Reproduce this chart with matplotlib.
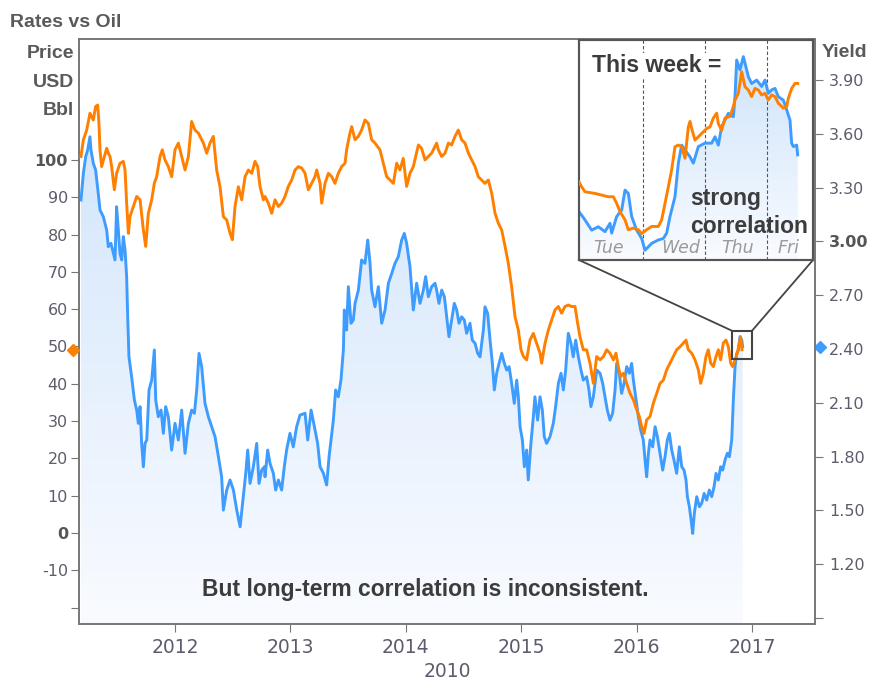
import numpy as np
import matplotlib
matplotlib.use("Agg")
import matplotlib.pyplot as plt
from matplotlib.colors import LinearSegmentedColormap
from matplotlib.patches import Rectangle, ConnectionPatch

plt.rcParams['font.family'] = ['Liberation Sans', 'DejaVu Sans']

# ---- main chart data (decimal year) ----
# oil price, USD/bbl (left axis)
oil_t = [2011.185, 2011.206, 2011.235, 2011.263, 2011.292, 2011.312, 2011.330, 2011.341, 2011.350, 2011.364,
         2011.388, 2011.408, 2011.422, 2011.437, 2011.451, 2011.474, 2011.494, 2011.523, 2011.552, 2011.567,
         2011.581, 2011.596, 2011.610, 2011.639, 2011.668, 2011.697, 2011.726, 2011.746, 2011.769, 2011.798,
         2011.821, 2011.841, 2011.870, 2011.890, 2011.913, 2011.942, 2011.971, 2012.000, 2012.029, 2012.058,
         2012.087, 2012.116, 2012.144, 2012.173, 2012.202, 2012.246, 2012.275, 2012.303, 2012.332, 2012.361,
         2012.390, 2012.419, 2012.448, 2012.477, 2012.497, 2012.520, 2012.549, 2012.578, 2012.607, 2012.636,
         2012.665, 2012.693, 2012.716, 2012.737, 2012.766, 2012.780, 2012.809, 2012.838, 2012.867, 2012.896,
         2012.924, 2012.953, 2012.982, 2013.011, 2013.040, 2013.069, 2013.098, 2013.127, 2013.155, 2013.184,
         2013.213, 2013.228, 2013.257, 2013.271, 2013.300, 2013.329, 2013.358, 2013.386, 2013.415, 2013.444,
         2013.473, 2013.487, 2013.516, 2013.531, 2013.560, 2013.589, 2013.617, 2013.646, 2013.675, 2013.704,
         2013.733, 2013.776, 2013.805, 2013.834, 2013.863, 2013.892, 2013.921, 2013.949, 2013.978, 2014.007,
         2014.036, 2014.065, 2014.109, 2014.137, 2014.166, 2014.195, 2014.224, 2014.267, 2014.282, 2014.311,
         2014.340, 2014.369, 2014.397, 2014.426, 2014.455, 2014.484, 2014.513, 2014.542, 2014.571, 2014.600,
         2014.628, 2014.657, 2014.686, 2014.715, 2014.744, 2014.773, 2014.802, 2014.831, 2014.860, 2014.888,
         2014.917, 2014.946, 2014.975, 2014.998, 2015.019, 2015.047, 2015.076, 2015.105, 2015.134, 2015.163,
         2015.177, 2015.206, 2015.235, 2015.264, 2015.293, 2015.322, 2015.350, 2015.379, 2015.408, 2015.437,
         2015.466, 2015.489, 2015.509, 2015.538, 2015.567, 2015.596, 2015.625, 2015.654, 2015.683, 2015.712,
         2015.741, 2015.769, 2015.798, 2015.821, 2015.841, 2015.862, 2015.885, 2015.914, 2015.943, 2015.972,
         2016.001, 2016.024, 2016.044, 2016.064, 2016.087, 2016.116, 2016.145, 2016.174, 2016.203, 2016.232,
         2016.260, 2016.289, 2016.318, 2016.347, 2016.376, 2016.405, 2016.428, 2016.448, 2016.477, 2016.506,
         2016.535, 2016.555, 2016.578, 2016.601, 2016.621, 2016.642, 2016.665, 2016.688, 2016.708, 2016.728,
         2016.751, 2016.774, 2016.795, 2016.815, 2016.832, 2016.852, 2016.873, 2016.890, 2016.901, 2016.913]
oil_v = [100.9, 105.4, 108.0, 112.5, 110.7, 114.3, 114.7, 109.8, 102.7, 98.2,
         100.9, 103.1, 101.8, 100.9, 98.2, 92.0, 96.4, 99.1, 99.6, 97.3,
         88.4, 80.3, 84.8, 87.5, 90.2, 89.3, 81.2, 76.8, 85.7, 89.3,
         93.8, 95.5, 100.9, 102.7, 100.0, 98.2, 95.5, 102.7, 104.5, 100.9,
         97.3, 100.9, 110.3, 108.0, 107.2, 104.5, 101.8, 104.5, 106.3, 97.3,
         92.8, 84.8, 83.9, 80.3, 78.6, 87.5, 92.8, 89.3, 95.5, 97.3,
         96.4, 99.6, 98.2, 92.8, 89.3, 90.2, 88.4, 85.7, 89.3, 87.5,
         88.4, 90.2, 92.9, 94.6, 97.3, 98.2, 97.8, 96.4, 92.0, 93.7,
         95.5, 97.3, 93.7, 88.4, 93.7, 96.4, 95.5, 93.7, 96.4, 98.2,
         99.1, 102.7, 107.2, 108.9, 105.4, 106.3, 108.0, 110.7, 109.8, 105.4,
         104.5, 102.7, 99.1, 95.5, 94.6, 93.7, 99.1, 97.3, 100.4, 92.9,
         96.4, 98.2, 104.0, 103.1, 100.0, 100.9, 101.8, 104.5, 102.7, 100.9,
         101.8, 104.5, 104.0, 106.3, 108.0, 105.4, 104.5, 101.8, 100.0, 98.2,
         95.5, 94.6, 93.7, 94.6, 91.1, 85.7, 83.0, 81.2, 76.8, 72.3,
         66.0, 58.0, 54.4, 49.1, 47.3, 46.4, 51.7, 53.5, 50.8, 48.2,
         45.5, 50.8, 54.4, 57.1, 59.8, 60.7, 58.9, 60.7, 61.1, 60.7,
         60.7, 56.2, 52.6, 49.1, 49.1, 45.5, 40.1, 47.3, 46.4, 47.3,
         49.1, 48.2, 46.4, 48.2, 44.6, 41.9, 42.8, 40.1, 37.4, 35.7,
         33.0, 31.2, 28.5, 26.7, 30.3, 31.2, 34.8, 37.4, 40.1, 41.0,
         43.7, 45.5, 47.3, 49.1, 49.9, 50.9, 51.7, 49.1, 48.2, 46.4,
         43.7, 40.1, 42.8, 47.3, 49.1, 45.5, 44.6, 47.3, 49.1, 46.4,
         50.9, 51.7, 49.9, 45.5, 44.6, 46.4, 48.2, 50.9, 52.6, 49.1]

# 10y yield, % (right axis)
yld_t = [2011.185, 2011.206, 2011.226, 2011.243, 2011.263, 2011.272, 2011.292, 2011.312, 2011.335, 2011.350,
         2011.379, 2011.408, 2011.422, 2011.445, 2011.466, 2011.480, 2011.494, 2011.509, 2011.523, 2011.538,
         2011.552, 2011.567, 2011.581, 2011.590, 2011.601, 2011.624, 2011.648, 2011.668, 2011.682, 2011.697,
         2011.711, 2011.726, 2011.740, 2011.755, 2011.775, 2011.798, 2011.821, 2011.833, 2011.855, 2011.879,
         2011.899, 2011.919, 2011.942, 2011.971, 2012.000, 2012.029, 2012.058, 2012.087, 2012.116, 2012.144,
         2012.168, 2012.188, 2012.208, 2012.231, 2012.260, 2012.289, 2012.318, 2012.347, 2012.376, 2012.404,
         2012.419, 2012.448, 2012.477, 2012.506, 2012.535, 2012.564, 2012.592, 2012.613, 2012.630, 2012.650,
         2012.679, 2012.708, 2012.728, 2012.751, 2012.775, 2012.780, 2012.803, 2012.823, 2012.852, 2012.872,
         2012.896, 2012.924, 2012.947, 2012.967, 2012.996, 2013.025, 2013.054, 2013.083, 2013.127, 2013.150,
         2013.179, 2013.208, 2013.236, 2013.257, 2013.286, 2013.314, 2013.335, 2013.352, 2013.372, 2013.392,
         2013.415, 2013.438, 2013.459, 2013.467, 2013.487, 2013.502, 2013.525, 2013.545, 2013.560, 2013.589,
         2013.617, 2013.646, 2013.670, 2013.690, 2013.704, 2013.733, 2013.762, 2013.791, 2013.820, 2013.849,
         2013.878, 2013.906, 2013.935, 2013.964, 2013.987, 2014.007, 2014.036, 2014.065, 2014.094, 2014.123,
         2014.152, 2014.172, 2014.195, 2014.224, 2014.253, 2014.267, 2014.287, 2014.311, 2014.334, 2014.354,
         2014.374, 2014.397, 2014.420, 2014.441, 2014.461, 2014.484, 2014.507, 2014.527, 2014.556, 2014.576,
         2014.600, 2014.623, 2014.643, 2014.672, 2014.686, 2014.709, 2014.730, 2014.750, 2014.767, 2014.787,
         2014.808, 2014.831, 2014.854, 2014.874, 2014.895, 2014.917, 2014.940, 2014.961, 2014.975, 2014.990,
         2015.010, 2015.027, 2015.047, 2015.061, 2015.084, 2015.105, 2015.119, 2015.142, 2015.163, 2015.183,
         2015.200, 2015.220, 2015.249, 2015.278, 2015.298, 2015.322, 2015.345, 2015.365, 2015.385, 2015.408,
         2015.431, 2015.451, 2015.472, 2015.495, 2015.518, 2015.538, 2015.567, 2015.587, 2015.604, 2015.625,
         2015.654, 2015.683, 2015.706, 2015.726, 2015.746, 2015.769, 2015.792, 2015.813, 2015.827, 2015.850,
         2015.870, 2015.891, 2015.914, 2015.937, 2015.957, 2015.972, 2015.995, 2016.015, 2016.035, 2016.058,
         2016.073, 2016.087, 2016.102, 2016.116, 2016.139, 2016.160, 2016.180, 2016.203, 2016.226, 2016.246,
         2016.266, 2016.284, 2016.304, 2016.324, 2016.347, 2016.370, 2016.391, 2016.411, 2016.428, 2016.440,
         2016.457, 2016.472, 2016.486, 2016.500, 2016.521, 2016.544, 2016.564, 2016.585, 2016.607, 2016.630,
         2016.651, 2016.671, 2016.688, 2016.708, 2016.728, 2016.746, 2016.766, 2016.786, 2016.804, 2016.824,
         2016.838, 2016.853, 2016.867, 2016.882, 2016.896, 2016.911, 2016.919]
yld_v = [3.231, 3.380, 3.473, 3.510, 3.584, 3.510, 3.436, 3.399, 3.268, 3.176,
         3.138, 3.064, 2.971, 2.990, 2.934, 2.897, 3.194, 3.064, 2.934, 2.897,
         3.027, 2.952, 2.804, 2.580, 2.357, 2.246, 2.116, 2.060, 1.986, 2.079,
         1.874, 1.744, 1.874, 1.893, 2.172, 2.227, 2.395, 2.116, 2.023, 2.060,
         1.930, 2.079, 2.023, 1.837, 1.986, 1.893, 2.060, 1.819, 1.986, 2.060,
         2.042, 2.172, 2.376, 2.302, 2.097, 2.023, 1.967, 1.911, 1.800, 1.688,
         1.502, 1.614, 1.670, 1.614, 1.502, 1.409, 1.577, 1.707, 1.837, 1.651,
         1.744, 1.874, 1.651, 1.725, 1.744, 1.688, 1.837, 1.763, 1.707, 1.614,
         1.670, 1.614, 1.744, 1.837, 1.930, 1.855, 1.967, 2.032, 2.042, 1.893,
         2.060, 1.967, 1.874, 1.744, 1.707, 1.642, 1.800, 1.893, 2.004, 2.172,
         2.134, 2.227, 2.395, 2.618, 2.506, 2.748, 2.544, 2.562, 2.655, 2.729,
         2.897, 2.878, 3.008, 2.878, 2.729, 2.636, 2.748, 2.544, 2.618, 2.767,
         2.822, 2.878, 2.915, 3.008, 3.045, 2.990, 2.859, 2.618, 2.767, 2.655,
         2.729, 2.804, 2.692, 2.748, 2.767, 2.729, 2.655, 2.729, 2.692, 2.580,
         2.469, 2.562, 2.655, 2.618, 2.544, 2.580, 2.562, 2.488, 2.544, 2.450,
         2.432, 2.376, 2.357, 2.506, 2.636, 2.599, 2.450, 2.320, 2.172, 2.265,
         2.320, 2.376, 2.320, 2.283, 2.302, 2.209, 2.097, 2.227, 2.134, 1.967,
         1.893, 1.744, 1.837, 1.670, 1.874, 2.023, 2.134, 2.004, 2.134, 2.060,
         1.911, 1.874, 1.911, 1.986, 2.079, 2.209, 2.265, 2.172, 2.283, 2.488,
         2.432, 2.357, 2.450, 2.357, 2.283, 2.227, 2.246, 2.172, 2.079, 2.134,
         2.283, 2.265, 2.209, 2.134, 2.060, 2.004, 2.042, 2.172, 2.320, 2.265,
         2.153, 2.209, 2.302, 2.265, 2.320, 2.227, 2.116, 2.023, 1.949, 1.893,
         1.781, 1.688, 1.819, 1.893, 1.855, 1.967, 1.911, 1.819, 1.725, 1.800,
         1.893, 1.930, 1.837, 1.781, 1.707, 1.855, 1.744, 1.725, 1.670, 1.577,
         1.521, 1.447, 1.372, 1.484, 1.577, 1.521, 1.540, 1.595, 1.558, 1.614,
         1.577, 1.632, 1.707, 1.670, 1.744, 1.725, 1.781, 1.819, 1.800, 1.893,
         2.116, 2.302, 2.376, 2.395, 2.469, 2.450, 2.413]

years = [2012, 2013, 2014, 2015, 2016, 2017]
oil_ticks = [-20, -10, 0, 10, 20, 30, 40, 50, 60, 70, 80, 90, 100]
yld_ticks = [0.90, 1.20, 1.50, 1.80, 2.10, 2.40, 2.70, 3.00, 3.30, 3.60, 3.90]

# ---- inset: this week (x = % of the week) ----
wk_yld_t = [0.0, 2.56, 5.41, 8.26, 11.11, 13.25, 13.96, 16.10, 18.23, 19.66, 21.08, 22.51, 24.64, 26.78,
            28.21, 31.05, 33.90, 36.04, 37.46, 38.89, 41.03, 42.45, 43.87, 45.30, 47.44, 48.86, 51.00,
            53.85, 56.70, 58.12, 59.54, 60.97, 63.82, 65.95, 66.67, 67.38, 68.80, 70.23, 71.65, 72.36,
            73.79, 75.93, 78.06, 79.49, 80.91, 82.34, 83.76, 85.19, 87.32, 88.75, 90.17, 90.88, 91.60,
            93.02, 93.45]
wk_yld_v = [1.899, 1.882, 1.861, 1.868, 1.858, 1.875, 1.855, 1.889, 1.902, 1.943, 1.936, 1.889, 1.861, 1.844,
            1.820, 1.834, 1.841, 1.844, 1.855, 1.889, 1.930, 1.998, 2.035, 2.025, 2.011, 1.998, 2.032,
            2.039, 2.039, 2.052, 2.035, 2.073, 2.100, 2.093, 2.134, 2.209, 2.189, 2.216, 2.189, 2.175,
            2.161, 2.168, 2.155, 2.168, 2.141, 2.148, 2.151, 2.134, 2.127, 2.107, 2.086, 2.039, 2.032,
            2.035, 2.015]
wk_oil_t = [0.0, 1.14, 2.56, 6.84, 9.69, 12.54, 14.67, 16.10, 17.52, 19.66, 21.08, 23.22, 25.36, 26.78,
            28.92, 31.05, 33.90, 35.33, 36.75, 38.18, 39.60, 41.03, 42.45, 43.87, 45.30, 46.72, 47.44,
            48.15, 49.57, 51.00, 52.42, 54.56, 55.98, 57.41, 58.83, 59.54, 60.97, 62.39, 64.53, 65.95,
            66.67, 68.09, 69.52, 70.94, 72.36, 73.79, 75.21, 76.64, 78.06, 79.49, 80.91, 82.34, 83.76,
            85.19, 87.32, 88.75, 89.46, 90.88, 92.31, 93.45]
wk_oil_v = [43.92, 43.83, 43.74, 43.71, 43.68, 43.65, 43.65, 43.53, 43.38, 43.23, 43.05, 43.08, 43.05, 42.98,
            43.05, 43.11, 43.11, 43.23, 43.53, 43.83, 44.14, 44.56, 44.59, 44.56, 44.35, 44.92, 45.02,
            44.89, 44.68, 44.74, 44.80, 44.89, 44.92, 45.08, 45.17, 44.98, 44.86, 45.08, 45.11, 45.29,
            45.41, 45.53, 45.92, 45.65, 45.59, 45.47, 45.62, 45.59, 45.50, 45.53, 45.41, 45.50, 45.47,
            45.35, 45.26, 45.29, 45.44, 45.62, 45.71, 45.71]
days = ["Tue", "Wed", "Thu", "Fri"]
day_mid = [12.8, 43.6, 67.8, 89.5]
day_bounds = [27.2, 54.0, 80.2]

ORANGE = "#ff8000"
BLUE = "#3f9cff"
GREY = "#777777"
TXT = "#5c5c6c"
DARK = "#3c3c3c"
fill_cmap = LinearSegmentedColormap.from_list("fill", ["#f9fbff", "#cce2fb"])


def gradient_fill(axis, x, y, ybottom, xlim, ylim):
	poly = axis.fill_between(x, y, ybottom, facecolor="none", edgecolor="none")
	grad = np.linspace(0, 1, 256).reshape(-1, 1)
	im = axis.imshow(grad, cmap=fill_cmap, origin="lower", aspect="auto",
					 extent=[xlim[0], xlim[1], ylim[0], ylim[1]], zorder=1)
	im.set_clip_path(poly.get_paths()[0], transform=axis.transData)
	axis.set_xlim(*xlim)
	axis.set_ylim(*ylim)


fig = plt.figure(figsize=(8.69, 6.81), dpi=100)
ax = fig.add_axes([0.0909, 0.0837, 0.8470, 0.8590])
ax2 = ax.twinx()
ax.set_zorder(ax2.get_zorder() + 1)
ax.patch.set_visible(False)

xlim = (2011.168, 2017.546)
oil_lim = (-24.4, 132.4)
yld_lim = (0.867, 4.129)

# yield: blue line with gradient fill (right axis)
gradient_fill(ax2, yld_t, yld_v, yld_lim[0], xlim, yld_lim)
ax2.plot(yld_t, yld_v, color=BLUE, lw=2.1, zorder=3)
# oil: orange line (left axis)
ax.plot(oil_t, oil_v, color=ORANGE, lw=2.1, zorder=3)
ax.set_xlim(*xlim)
ax.set_ylim(*oil_lim)

# last value markers
ax.plot([-0.008], [oil_v[-1]], marker="D", ms=6, color=ORANGE, clip_on=False,
		transform=ax.get_yaxis_transform(), zorder=6)
ax2.plot([1.007], [yld_v[-1]], marker="D", ms=6, color=BLUE, clip_on=False,
		 transform=ax2.get_yaxis_transform(), zorder=6)

# axes styling
for a in (ax, ax2):
	for s in a.spines.values():
		s.set_color(GREY)
		s.set_linewidth(1.2)
ax.set_xticks(years)
ax.set_xticklabels([str(y) for y in years], family=["Liberation Sans Narrow", "DejaVu Sans"],
				   fontsize=13.5, color=TXT)
ax.tick_params(axis="x", direction="out", length=6, color=GREY, pad=4)
ax.set_xlabel("2010", family=["Liberation Sans Narrow", "DejaVu Sans"], fontsize=13.5,
			  color=TXT, labelpad=4)

ax.set_yticks(oil_ticks)
ax.set_yticklabels(["" if v == -20 else str(v) for v in oil_ticks], family="DejaVu Sans",
				   fontsize=11.5, color=TXT)
ax.tick_params(axis="y", direction="out", length=6, color=GREY, pad=2)
for lab in ax.get_yticklabels():
	if lab.get_text() in ("100", "0"):
		lab.set_fontweight("bold")
		lab.set_color("#555555")

ax2.set_yticks(yld_ticks)
ax2.set_yticklabels(["" if abs(v - 0.9) < 1e-6 else "%.2f" % v for v in yld_ticks],
					family="DejaVu Sans", fontsize=11.5, color=TXT)
ax2.tick_params(axis="y", direction="out", length=6, color=GREY, pad=4)
for lab in ax2.get_yticklabels():
	if lab.get_text() == "3.00":
		lab.set_fontweight("bold")
		lab.set_color("#555555")

# titles and axis captions
fig.text(10 / 869, 1 - 27 / 681, "Rates vs Oil", fontsize=14, fontweight="bold", color="#5a5a5a")
for txt, base in (("Price", 58), ("USD", 87), ("Bbl", 115)):
	fig.text(74 / 869, 1 - base / 681, txt, ha="right", fontsize=14, fontweight="bold", color="#5a5a5a")
fig.text(822 / 869, 1 - 57 / 681, "Yield", fontsize=14, fontweight="bold", color="#5a5a5a")

ax.text(0.470, 0.048, "But long-term correlation is inconsistent.", transform=ax.transAxes,
		ha="center", va="baseline", fontsize=16.5, fontweight="bold", color=DARK, zorder=5)

# zoom box on the last week
box_x0, box_x1 = 2016.827, 2017.0
box_y0, box_y1 = 46.6, 54.2
ax.add_patch(Rectangle((box_x0, box_y0), box_x1 - box_x0, box_y1 - box_y0, fill=False,
					   edgecolor="#444444", lw=1.5, zorder=5))

# ---- inset ----
ins = fig.add_axes([579 / 869, 1 - 260 / 681, 234 / 869, 220 / 681])
ins.set_zorder(10)
ins_oil = ins.twinx()
ins_oil.set_zorder(11)
ins_oil.patch.set_visible(False)
gradient_fill(ins, wk_yld_t, wk_yld_v, 1.80, (0, 100), (1.80, 2.25))
ins.plot(wk_yld_t, wk_yld_v, color=BLUE, lw=2.1, zorder=3)
ins_oil.plot(wk_oil_t, wk_oil_v, color=ORANGE, lw=2.1, zorder=3)
ins_oil.set_xlim(0, 100)
ins_oil.set_ylim(42.5, 46.5)
for b in day_bounds:
	ins.axvline(b, color="#555555", lw=0.8, ls=(0, (3, 2)), zorder=2)
for d, m in zip(days, day_mid):
	ins.text(m, 0.03, d, transform=ins.get_xaxis_transform(), ha="center", va="baseline",
			 family="DejaVu Sans", style="italic", fontsize=12.5, color="#9a9a9a", zorder=4)
for a in (ins, ins_oil):
	a.set_xticks([])
	a.set_yticks([])
	for s in a.spines.values():
		s.set_color("#555555")
		s.set_linewidth(1.5)
ins_oil.text(0.056, 0.855, "This week =", transform=ins.transAxes, fontsize=16.5, fontweight="bold",
			 color=DARK, va="baseline", zorder=6,
			 bbox=dict(facecolor="white", edgecolor="none", pad=1))
ins_oil.text(0.474, 0.25, "strong", transform=ins.transAxes, fontsize=16.5, fontweight="bold",
			 color=DARK, va="baseline", zorder=6)
ins_oil.text(0.474, 0.123, "correlation", transform=ins.transAxes, fontsize=16.5, fontweight="bold",
			 color=DARK, va="baseline", zorder=6)

# connector lines from the inset to the zoom box
for xa, xb in ((0, box_x0), (1, box_x1)):
	con = ConnectionPatch(xyA=(xa, 0), coordsA=ins.transAxes, xyB=(xb, box_y1), coordsB=ax.transData,
						  color="#444444", lw=1.3, zorder=9)
	fig.add_artist(con)

fig.savefig("out.png", dpi=100)
